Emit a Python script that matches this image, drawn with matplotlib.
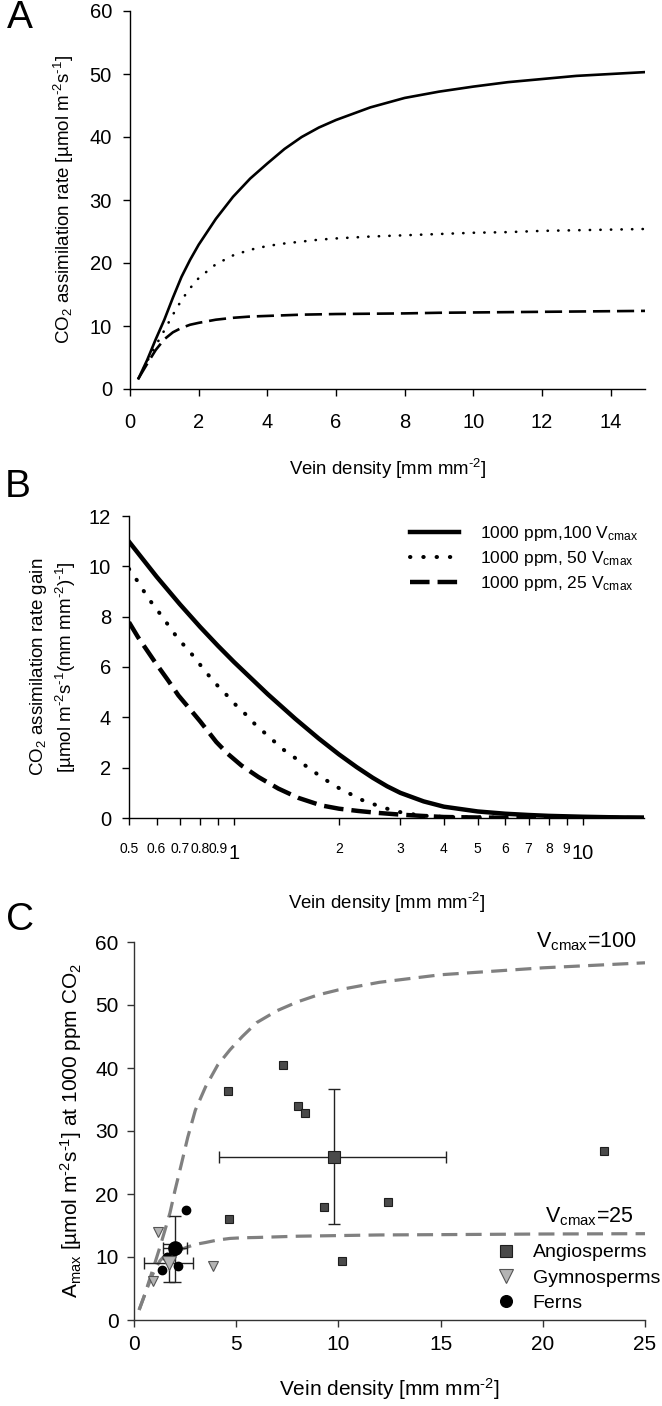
import matplotlib
matplotlib.use("Agg")
import matplotlib.pyplot as plt
from matplotlib.ticker import FixedLocator, FixedFormatter

plt.rcParams['font.family'] = ['Liberation Sans', 'DejaVu Sans']
plt.rcParams['mathtext.fontset'] = 'custom'
plt.rcParams['mathtext.rm'] = 'Liberation Sans'
plt.rcParams['mathtext.it'] = 'Liberation Sans:italic'

# superscripts with a short hyphen, as in the original figure
M2 = '$^{\\text{-}2}$'
M1 = '$^{\\text{-}1}$'

# ---- Panel A: assimilation vs vein density ----
a_x = [0.25, 0.5, 0.75, 1, 1.25, 1.5, 1.75, 2, 2.5, 3, 3.5, 4, 4.5, 5, 5.5, 6, 7, 8, 9, 10, 11, 12, 13, 14, 15]
a_v100 = [1.7, 4.6, 7.9, 11.0, 14.5, 17.8, 20.5, 22.9, 27.0, 30.5, 33.4, 35.8, 38.1, 40.0, 41.5, 42.7,
          44.7, 46.2, 47.2, 48.0, 48.7, 49.2, 49.7, 50.0, 50.3]
a_v50 = [1.7, 4.4, 6.9, 9.3, 11.8, 14.1, 16.0, 17.6, 19.8, 21.2, 22.1, 22.7, 23.1, 23.4, 23.7, 23.9,
         24.2, 24.4, 24.6, 24.8, 24.9, 25.1, 25.2, 25.3, 25.4]
a_v25 = [1.7, 4.0, 6.2, 7.9, 9.0, 9.7, 10.2, 10.5, 11.0, 11.3, 11.5, 11.6, 11.7, 11.8, 11.85, 11.9,
         11.95, 12.0, 12.1, 12.15, 12.2, 12.25, 12.3, 12.35, 12.4]

# ---- Panel B: assimilation gain (log x) ----
b100_x = [0.5, 0.6, 0.7, 0.8, 0.9, 1, 1.25, 1.5, 1.75, 2, 2.25, 2.5, 2.75, 3, 3.5, 4, 5, 6, 7, 8,
          10, 12, 15]
b100_y = [10.98, 9.59, 8.49, 7.59, 6.84, 6.2, 4.92, 3.94, 3.16, 2.53, 2.02, 1.6, 1.26, 1.0, 0.66,
          0.45, 0.26, 0.17, 0.12, 0.085, 0.05, 0.03, 0.015]
b50_x = [0.5, 0.526, 0.57, 0.6, 0.63, 0.69, 0.73, 0.77, 0.81, 0.854, 0.9, 0.96, 1.02, 1.09, 1.15,
         1.23, 1.31, 1.4, 1.5, 1.6, 1.7, 1.81, 1.93, 2.06, 2.2, 2.35, 2.5, 2.68, 2.85, 3.03, 3.2,
         3.43, 3.65, 4, 5, 6, 8, 10, 15]
b50_y = [9.9, 9.46, 8.7, 8.3, 7.9, 7.14, 6.76, 6.39, 5.99, 5.6, 5.24, 4.84, 4.44, 4.07, 3.72, 3.36,
         3.02, 2.67, 2.38, 2.09, 1.83, 1.56, 1.32, 1.08, 0.9, 0.69, 0.56, 0.42, 0.3, 0.22, 0.16,
         0.11, 0.07, 0.04, 0.02, 0.01, 0.005, 0.0, 0.0]
b25_x = [0.5, 0.531, 0.594, 0.648, 0.693, 0.76, 0.8, 0.89, 0.96, 1.05, 1.175, 1.34, 1.53, 1.78, 2.0,
         2.27, 2.6, 3.03, 3.5, 4, 5, 6, 8, 15]
b25_y = [7.78, 7.18, 6.19, 5.46, 4.87, 4.21, 3.84, 3.02, 2.55, 2.09, 1.63, 1.17, 0.8, 0.5, 0.37,
         0.28, 0.2, 0.13, 0.08, 0.04, 0.02, 0.01, 0.0, 0.0]
b_labels = ['1000 ppm,100 V$_{\\mathrm{cmax}}$', '1000 ppm, 50 V$_{\\mathrm{cmax}}$',
            '1000 ppm, 25 V$_{\\mathrm{cmax}}$']
b_minor = [0.5, 0.6, 0.7, 0.8, 0.9, 2, 3, 4, 5, 6, 7, 8, 9]
b_minor_lbl = ['0.5', '0.6', '0.7', '0.8', '0.9', '2', '3', '4', '5', '6', '7', '8', '9']

# ---- Panel C: model curves + measured species ----
c_x = [0.25, 0.5, 0.78, 1.0, 1.27, 1.5, 1.76, 2.0, 2.3, 2.63, 3.0, 3.5, 4.1, 4.7, 5.3, 6, 7, 8,
       9, 10, 12, 15, 20, 25]
c_v100 = [1.6, 3.8, 6.6, 8.8, 11.6, 14.1, 17.0, 20.5, 24.5, 29.0, 33.3, 37.0, 40.5, 42.9, 45.0, 47.2,
          49.1, 50.5, 51.6, 52.4, 53.6, 54.8, 55.9, 56.7]
c_v25 = [1.6, 3.8, 6.2, 7.9, 9.4, 10.2, 10.7, 11.0, 11.2, 11.6, 12.0, 12.3, 12.7, 12.95, 13.05, 13.1,
         13.2, 13.3, 13.35, 13.4, 13.5, 13.55, 13.65, 13.7]

ang_x = [4.6, 7.28, 8.0, 8.35, 9.3, 12.45, 10.2, 4.66, 23.0]
ang_y = [36.4, 40.5, 33.9, 32.9, 17.9, 18.8, 9.4, 16.1, 26.9]
gym_x = [1.19, 3.85, 0.95]
gym_y = [14.0, 8.5, 6.2]
fern_x = [2.54, 1.35, 1.63, 2.17, 1.95]
fern_y = [17.46, 7.9, 9.95, 8.6, 11.0]

ang_mean = (9.78, 25.9)
ang_xerr = ([5.6], [5.5])
ang_yerr = ([10.7], [10.7])
gym_mean = (1.69, 9.0)
gym_xerr = ([1.18], [1.18])
gym_yerr = ([3.0], [3.0])
fern_mean = (2.0, 11.5)
fern_xerr = ([0.57], [0.57])
fern_yerr = ([5.5], [5.06])

W, H = 662, 1406
fig = plt.figure(figsize=(W / 100, H / 100), dpi=100)


def box(l, t, r, b):
    return [l / W, 1 - b / H, (r - l) / W, (b - t) / H]


def style(ax, color='black'):
    for s in ['top', 'right']:
        ax.spines[s].set_visible(False)
    for s in ['left', 'bottom']:
        ax.spines[s].set_color(color)
        ax.spines[s].set_linewidth(1.0)
    ax.tick_params(direction='out', length=5, width=1.0, color=color)


xlab = 'Vein density [mm mm' + M2 + ']'

# ---------- A ----------
axA = fig.add_axes(box(130, 11, 645, 389))
axA.plot(a_x, a_v100, color='black', lw=1.9)
axA.plot(a_x, a_v50, color='black', lw=1.9, linestyle=(0, (0.1, 3.9)), dash_capstyle='round')
axA.plot(a_x, a_v25, color='black', lw=1.9, linestyle=(0, (6.5, 2.6)))
axA.set_xlim(0, 15)
axA.set_ylim(0, 60)
axA.set_xticks(range(0, 15, 2))
axA.set_yticks(range(0, 61, 10))
style(axA)
axA.tick_params(axis='x', labelsize=14.5, pad=12)
axA.tick_params(axis='y', labelsize=14.5, pad=8)
axA.set_xlabel(xlab, fontsize=13.4, labelpad=18)
axA.set_ylabel('CO$_2$ assimilation rate [µmol m' + M2 + 's' + M1 + ']', fontsize=13.5, labelpad=10)
fig.text(20 / W, 1 - 18 / H, 'A', fontsize=28, ha='center', va='center')

# ---------- B ----------
axB = fig.add_axes(box(129, 516, 644, 818))
axB.plot(b100_x, b100_y, color='black', lw=3.2, label=b_labels[0])
axB.plot(b50_x, b50_y, color='black', lw=2.9, linestyle=(0, (0.1, 3.2)), dash_capstyle='round',
         label=b_labels[1])
axB.plot(b25_x, b25_y, color='black', lw=3.2, linestyle=(0, (4.4, 1.8)), label=b_labels[2])
axB.set_xscale('log')
axB.set_xlim(0.5, 15)
axB.set_ylim(0, 12)
axB.set_yticks(range(0, 13, 2))
axB.xaxis.set_major_locator(FixedLocator([1, 10]))
axB.xaxis.set_major_formatter(FixedFormatter(['1', '10']))
axB.xaxis.set_minor_locator(FixedLocator(b_minor))
axB.xaxis.set_minor_formatter(FixedFormatter(b_minor_lbl))
style(axB)
axB.tick_params(axis='x', which='major', labelsize=14.5, pad=14)
axB.tick_params(axis='x', which='minor', labelsize=10, pad=12, length=5, width=1.0)
axB.tick_params(axis='y', labelsize=14.5, pad=8)
axB.set_xlabel(xlab, fontsize=13.4, labelpad=20)
axB.set_ylabel('CO$_2$ assimilation rate gain\n[µmol m' + M2 + 's' + M1 + '(mm mm' + M2 + ')' + M1 + ']',
               fontsize=13.5, labelpad=8, linespacing=1.25)
axB.legend(loc='center left', bbox_to_anchor=(0.546, 0.858), frameon=False, fontsize=12.5,
           handlelength=2.8, handletextpad=1.2, labelspacing=0.35, borderpad=0, borderaxespad=0)
fig.text(18 / W, 1 - 487 / H, 'B', fontsize=28, ha='center', va='center')

# ---------- C ----------
grey = '#808080'
axC = fig.add_axes(box(134, 942, 645, 1320))
axC.plot(c_x, c_v100, color=grey, lw=2.3, linestyle=(0, (5, 2.6)))
axC.plot(c_x, c_v25, color=grey, lw=2.3, linestyle=(0, (5, 2.6)))
eb = dict(fmt='none', ecolor='#222222', elinewidth=1.0, capsize=4, capthick=1.0, zorder=3)
axC.errorbar([ang_mean[0]], [ang_mean[1]], xerr=ang_xerr, yerr=ang_yerr, **eb)
axC.errorbar([gym_mean[0]], [gym_mean[1]], xerr=gym_xerr, yerr=gym_yerr, **eb)
axC.errorbar([fern_mean[0]], [fern_mean[1]], xerr=fern_xerr, yerr=fern_yerr, **eb)
axC.plot(ang_x, ang_y, 's', color='#4a4a4a', mec='#1e1e1e', ms=6, mew=0.8, zorder=4,
         label='Angiosperms')
axC.plot(gym_x, gym_y, 'v', color='#b4b4b4', mec='#555555', ms=7, mew=0.8, zorder=4,
         label='Gymnosperms')
axC.plot(fern_x, fern_y, 'o', color='black', ms=6, zorder=4, label='Ferns')
axC.plot([ang_mean[0]], [ang_mean[1]], 's', color='#4a4a4a', mec='#1e1e1e', ms=9, mew=0.8, zorder=5)
axC.plot([gym_mean[0]], [gym_mean[1]], 'v', color='#b4b4b4', mec='#555555', ms=10, mew=0.8, zorder=5)
axC.plot([fern_mean[0]], [fern_mean[1]], 'o', color='black', ms=9.5, zorder=5)
axC.set_xlim(0, 25)
axC.set_ylim(0, 60)
axC.set_xticks(range(0, 26, 5))
axC.set_yticks(range(0, 61, 10))
style(axC, color='#333333')
axC.tick_params(labelsize=15, pad=6)
axC.set_xlabel(xlab, fontsize=15, labelpad=16)
axC.set_ylabel('A$_{\\mathrm{max}}$ [µmol m' + M2 + 's' + M1 + '] at 1000 ppm CO$_2$', fontsize=15,
               labelpad=8)
axC.text(0.984, 1.0, 'V$_{\\mathrm{cmax}}$=100', transform=axC.transAxes, ha='right', va='center',
         fontsize=15.5)
axC.text(0.977, 0.272, 'V$_{\\mathrm{cmax}}$=25', transform=axC.transAxes, ha='right', va='center',
         fontsize=15.5)
axC.legend(loc='center left', bbox_to_anchor=(0.706, 0.111), frameon=False, fontsize=14,
           handletextpad=0.75, labelspacing=0.4, markerscale=1.4, handlelength=1.2,
           borderpad=0, borderaxespad=0)
fig.text(20 / W, 1 - 920 / H, 'C', fontsize=28, ha='center', va='center')

fig.savefig('out.png', dpi=100)
